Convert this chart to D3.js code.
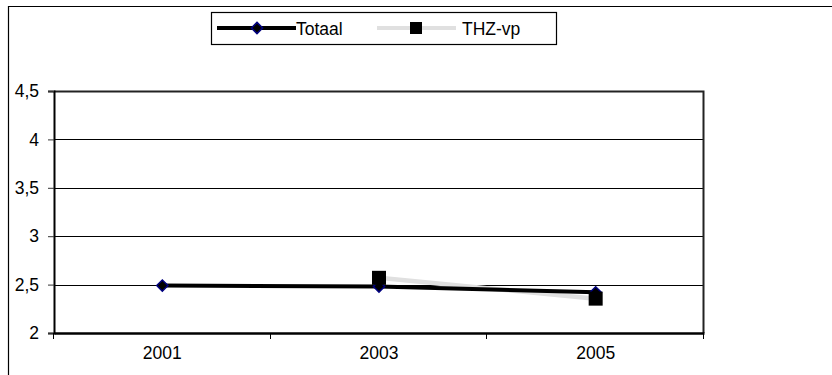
<!DOCTYPE html>
<html>
<head>
<meta charset="utf-8">
<script src="https://cdn.jsdelivr.net/npm/d3@7"></script>
<style>
  body { margin: 0; background: #fff; }
  svg { display: block; font-family: "Liberation Sans", Arial, sans-serif; }
</style>
</head>
<body>
<script>
// categories and series
var years = ["2001", "2003", "2005"];
var totaal = [2.49, 2.48, 2.42];
var thzvp = [null, 2.57, 2.355];
var yTicks = [2, 2.5, 3, 3.5, 4, 4.5];

var w = 832, h = 375;
var plotL = 54, plotR = 704, plotT = 91, plotB = 333;
var fs = 17.5;

var svg = d3.select("body").append("svg")
  .attr("width", w)
  .attr("height", h);

// outer chart frame, runs off the right and bottom edge
svg.append("path")
  .attr("d", "M8.5," + h + "V6.5H" + w)
  .attr("fill", "none")
  .attr("stroke", "#000")
  .attr("stroke-width", 1.2);

var x = d3.scaleBand()
  .domain(years)
  .range([plotL, plotR]);

var y = d3.scaleLinear()
  .domain([2, 4.5])
  .range([plotB, plotT]);

var fmt = function(d) { return String(d).replace(".", ","); };

// gridlines
svg.append("g")
  .selectAll("line")
  .data(yTicks)
  .enter()
  .append("line")
  .attr("x1", plotL)
  .attr("x2", plotR)
  .attr("y1", function(d) { return Math.round(y(d)) + 0.5; })
  .attr("y2", function(d) { return Math.round(y(d)) + 0.5; })
  .attr("stroke", "#000")
  .attr("stroke-width", 1);

// plot area border (top and right)
svg.append("path")
  .attr("d", "M" + plotL + "," + (plotT + 0.5) + "H" + (plotR - 0.5) + "V" + plotB)
  .attr("fill", "none")
  .attr("stroke", "#222")
  .attr("stroke-width", 2);

// y axis
var yAxis = d3.axisLeft(y)
  .tickValues(yTicks)
  .tickFormat(fmt)
  .tickSize(6)
  .tickPadding(9);

var gy = svg.append("g")
  .attr("transform", "translate(" + plotL + ",0)")
  .call(yAxis);
gy.select(".domain").attr("stroke-width", 2);
gy.selectAll(".tick line").attr("stroke", "#333");
gy.selectAll("text")
  .style("font-size", fs + "px")
  .style("font-family", "'Liberation Sans', Arial, sans-serif")
  .attr("fill", "#000");

// x axis: ticks on category boundaries, labels centred
var xAxis = d3.axisBottom(x)
  .tickSize(0)
  .tickPadding(14);

var gx = svg.append("g")
  .attr("transform", "translate(0," + plotB + ")")
  .call(xAxis);
gx.select(".domain").attr("stroke-width", 2.5);
gx.selectAll("text")
  .style("font-size", fs + "px")
  .style("font-family", "'Liberation Sans', Arial, sans-serif")
  .attr("fill", "#000");

var bounds = years.map(function(d) { return x(d); }).concat([plotR]);
svg.append("g")
  .selectAll("line")
  .data(bounds)
  .enter()
  .append("line")
  .attr("x1", function(d) { return Math.round(d) - 0.5; })
  .attr("x2", function(d) { return Math.round(d) - 0.5; })
  .attr("y1", plotB)
  .attr("y2", plotB + 6)
  .attr("stroke", "#000");

var cx = function(i) { return x(years[i]) + x.bandwidth() / 2; };

// THZ-vp line (light grey) with square markers
var pts2 = [];
thzvp.forEach(function(v, i) { if (v != null) pts2.push([cx(i), y(v)]); });

svg.append("path")
  .attr("d", d3.line()(pts2))
  .attr("fill", "none")
  .attr("stroke", "#e0e0e0")
  .attr("stroke-width", 4.5);

// Totaal line (black) with diamond markers
var pts1 = totaal.map(function(v, i) { return [cx(i), y(v)]; });

svg.append("path")
  .attr("d", d3.line()(pts1))
  .attr("fill", "none")
  .attr("stroke", "#000")
  .attr("stroke-width", 4);

svg.append("g")
  .selectAll("path")
  .data(pts1)
  .enter()
  .append("path")
  .attr("d", d3.symbol().type(d3.symbolDiamond2).size(80))
  .attr("transform", function(d) { return "translate(" + d[0] + "," + d[1] + ")"; })
  .attr("fill", "#000")
  .attr("stroke", "#000080")
  .attr("stroke-width", 1.5);

svg.append("g")
  .selectAll("rect")
  .data(pts2)
  .enter()
  .append("rect")
  .attr("x", function(d) { return d[0] - 7; })
  .attr("y", function(d) { return d[1] - 7; })
  .attr("width", 14)
  .attr("height", 14)
  .attr("fill", "#000");

// legend
var lg = svg.append("g");
lg.append("rect")
  .attr("x", 211.5)
  .attr("y", 12.5)
  .attr("width", 345)
  .attr("height", 32)
  .attr("fill", "#fff")
  .attr("stroke", "#000")
  .attr("stroke-width", 1.2);

lg.append("line")
  .attr("x1", 217).attr("x2", 296)
  .attr("y1", 28).attr("y2", 28)
  .attr("stroke", "#000").attr("stroke-width", 4);
lg.append("path")
  .attr("d", d3.symbol().type(d3.symbolDiamond2).size(80))
  .attr("transform", "translate(257,28)")
  .attr("fill", "#000")
  .attr("stroke", "#000080")
  .attr("stroke-width", 1.5);
lg.append("text")
  .attr("x", 296).attr("y", 34.5)
  .style("font-size", fs + "px")
  .text("Totaal");

lg.append("line")
  .attr("x1", 377).attr("x2", 456)
  .attr("y1", 28).attr("y2", 28)
  .attr("stroke", "#e0e0e0").attr("stroke-width", 4);
lg.append("rect")
  .attr("x", 410).attr("y", 22)
  .attr("width", 12).attr("height", 12)
  .attr("fill", "#000");
lg.append("text")
  .attr("x", 462).attr("y", 34.5)
  .style("font-size", fs + "px")
  .text("THZ-vp");
</script>
</body>
</html>
